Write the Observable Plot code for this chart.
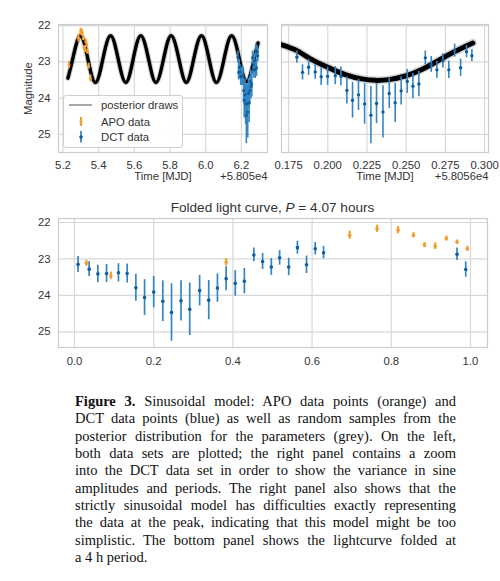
<!DOCTYPE html>
<html><head><meta charset="utf-8">
<script src="https://cdn.jsdelivr.net/npm/d3@7"></script>
<script src="https://cdn.jsdelivr.net/npm/@observablehq/plot@0.6"></script>
<style>
html,body{margin:0;padding:0;background:#fff;}
#wrap{position:relative;width:500px;height:581px;overflow:hidden;background:#fff;}
.panel{position:absolute;}
.panel text{font-family:"Liberation Sans" !important;font-size:11.3px !important;}
#legend{position:absolute;left:63px;top:95px;width:118px;height:51px;border:1px solid #cfcfcf;border-radius:3px;background:rgba(255,255,255,0.9);font:11.3px "Liberation Sans";color:#333;}
#legend svg{position:absolute;left:0;top:0;}
#legend span{position:absolute;left:37px;line-height:12px;white-space:nowrap;}
#title{position:absolute;left:58px;width:429px;top:200px;text-align:center;font:13.6px "Liberation Sans";line-height:16px;color:#333;}
#caption{position:absolute;left:75px;top:393px;width:381px;font-family:"Liberation Serif";font-size:14.5px;line-height:17.35px;color:#111;}
#caption div{text-align:justify;text-align-last:justify;}
#caption div.last{text-align-last:left;}
</style>
</head><body>
<div id="wrap"></div>
<script>
// ---- data ----
const xTicksA = [5.2, 5.4, 5.6, 5.8, 6.0, 6.2];
const xTicksB = [0.175, 0.200, 0.225, 0.250, 0.275, 0.300];
const xTicksC = [0.0, 0.2, 0.4, 0.6, 0.8, 1.0];
const yTicks = [22, 23, 24, 25];

// APO data: time (MJD - 58050), folded phase, magnitude, error
const apoTime  = [5.234, 5.287, 5.299, 5.308, 5.314, 5.319, 5.324, 5.328, 5.333, 5.337, 5.344, 5.354];
const apoPhase = [0.383, 0.695, 0.764, 0.817, 0.856, 0.884, 0.911, 0.939, 0.966, 0.992, 0.030, 0.092];
const apoMag   = [23.09, 22.35, 22.17, 22.21, 22.35, 22.62, 22.65, 22.44, 22.54, 22.72, 23.12, 23.46];
const apoErr   = [0.10, 0.11, 0.10, 0.10, 0.07, 0.07, 0.09, 0.07, 0.06, 0.07, 0.08, 0.10];

// DCT data: time (MJD - 58056), folded phase, magnitude, error
const dctTime  = [0.1803, 0.1839, 0.1878, 0.1920, 0.1958, 0.1999, 0.2048, 0.2084, 0.2122, 0.2158,
                  0.2196, 0.2235, 0.2275, 0.2311, 0.2352, 0.2392, 0.2430, 0.2468, 0.2507, 0.2543,
                  0.2581, 0.2622, 0.2660, 0.2696, 0.2734, 0.2772, 0.2809, 0.2847, 0.2885, 0.2919];
const dctPhase = [0.966, 0.988, 0.009, 0.037, 0.059, 0.081, 0.111, 0.133, 0.155, 0.177,
                  0.200, 0.223, 0.245, 0.269, 0.291, 0.316, 0.339, 0.361, 0.383, 0.406,
                  0.429, 0.453, 0.475, 0.497, 0.518, 0.541, 0.563, 0.586, 0.608, 0.629];
const dctMag   = [22.87, 23.29, 23.15, 23.28, 23.41, 23.40, 23.38, 23.40, 23.79, 24.06,
                  23.91, 24.16, 24.47, 24.15, 24.38, 23.87, 24.13, 23.80, 23.54, 23.67,
                  23.61, 22.89, 23.07, 23.22, 22.97, 23.22, 22.69, 23.16, 22.72, 22.83];
const dctErr   = [0.17, 0.21, 0.22, 0.20, 0.24, 0.25, 0.25, 0.26, 0.37, 0.49,
                  0.43, 0.56, 0.79, 0.55, 0.72, 0.42, 0.54, 0.39, 0.33, 0.35,
                  0.35, 0.19, 0.22, 0.23, 0.20, 0.24, 0.18, 0.24, 0.17, 0.17];
const DCT_OFFSET = 6; // 58056 - 58050

// posterior model (MJD - 58050)
const modelTime = [5.228, 5.255, 5.297, 5.339, 5.382, 5.424, 5.467, 5.509, 5.552, 5.594,
                   5.636, 5.679, 5.721, 5.764, 5.806, 5.849, 5.891, 5.933, 5.976, 6.018,
                   6.060, 6.103, 6.145, 6.188, 6.230, 6.272, 6.293];
const modelMag  = [23.45, 22.91, 22.28, 22.91, 23.57, 22.91, 22.28, 22.91, 23.57, 22.91,
                   22.28, 22.91, 23.57, 22.91, 22.28, 22.91, 23.57, 22.91, 22.28, 22.91,
                   23.57, 22.91, 22.28, 22.91, 23.55, 22.91, 22.48];
// posterior model (MJD - 58056)
const zoomModelTime = [0.1707, 0.1803, 0.1899, 0.2005, 0.2111, 0.2218, 0.2303, 0.2388, 0.2494, 0.2600, 0.2707, 0.2813, 0.2925];
const zoomModelMag  = [22.53, 22.69, 22.94, 23.16, 23.35, 23.47, 23.51, 23.49, 23.39, 23.21, 22.96, 22.71, 22.48];

const captionLines = [
  "<b>Figure 3.</b> Sinusoidal model: APO data points (orange) and",
  "DCT data points (blue) as well as random samples from the",
  "posterior distribution for the parameters (grey). On the left,",
  "both data sets are plotted; the right panel contains a zoom",
  "into the DCT data set in order to show the variance in sine",
  "amplitudes and periods. The right panel also shows that the",
  "strictly sinusoidal model has difficulties exactly representing",
  "the data at the peak, indicating that this model might be too",
  "simplistic. The bottom panel shows the lightcurve folded at",
  "a 4 h period."
];

// ---- tables ----
const apo = apoMag.map((m, i) => ({t: apoTime[i], ph: apoPhase[i], m, e: apoErr[i]}));
const dct = dctMag.map((m, i) => ({t: dctTime[i], tl: dctTime[i] + DCT_OFFSET, ph: dctPhase[i], m, e: dctErr[i]}));
const model = modelTime.map((t, i) => ({t, m: modelMag[i]}));
const zoomModel = zoomModelTime.map((t, i) => ({t, m: zoomModelMag[i]}));

// ---- style ----
const ORANGE = "#f0a030", BLUE_BAR = "#3585c2", BLUE_DOT = "#0e5f9c";
const GRID = "#d8d8d8", FRAME = "#cccccc", TXT = "#333333";
const baseStyle = {fontFamily: "Liberation Sans", fontSize: "11.3px", color: TXT, background: "transparent", overflow: "visible"};

function grids(xt) {
  return [
    Plot.gridX(xt, {stroke: GRID, strokeOpacity: 1, strokeWidth: 1.2}),
    Plot.gridY(yTicks, {stroke: GRID, strokeOpacity: 1, strokeWidth: 1.2}),
    Plot.frame({stroke: FRAME, strokeWidth: 1.2})
  ];
}

const wrap = document.getElementById("wrap");
function place(node, left, top) {
  node.classList.add("panel");
  node.style.left = left + "px";
  node.style.top = top + "px";
  wrap.appendChild(node);
}

// Panel A: full light curve
const plotA = Plot.plot({
  width: 270, height: 195,
  marginLeft: 58, marginRight: 3, marginTop: 24, marginBottom: 43,
  style: baseStyle,
  x: {domain: [5.175, 6.346], label: null},
  y: {domain: [21.97, 25.5], reverse: true, label: null},
  marks: [
    ...grids(xTicksA),
    Plot.axisX(xTicksA, {tickSize: 0, tickPadding: 8, tickFormat: d => d.toFixed(1), label: null, fill: TXT}),
    Plot.axisY(yTicks, {tickSize: 0, tickPadding: 8, tickFormat: d => String(d), label: null, fill: TXT}),
    Plot.line(model, {x: "t", y: "m", curve: "natural", stroke: "#777", strokeOpacity: 0.35, strokeWidth: 5.5, clip: true}),
    Plot.line(model, {x: "t", y: "m", curve: "natural", stroke: "#000", strokeWidth: 3.4, clip: true}),
    Plot.ruleX(apo, {x: "t", y1: d => d.m - d.e, y2: d => d.m + d.e, stroke: ORANGE, strokeWidth: 2}),
    Plot.dot(apo, {x: "t", y: "m", r: 1.5, fill: ORANGE}),
    Plot.ruleX(dct, {x: "tl", y1: d => d.m - d.e, y2: d => d.m + d.e, stroke: BLUE_BAR, strokeWidth: 1.6}),
    Plot.dot(dct, {x: "tl", y: "m", r: 1.5, fill: BLUE_DOT}),
    Plot.text(["Time [MJD]"], {text: d => d, frameAnchor: "bottom", dy: 27.5, fill: TXT}),
    Plot.text(["+5.805e4"], {text: d => d, frameAnchor: "bottom-right", textAnchor: "end", dy: 27.5, fill: TXT}),
    Plot.text(["Magnitude"], {text: d => d, frameAnchor: "left", textAnchor: "middle", lineAnchor: "middle", rotate: -90, dx: -30, fill: TXT})
  ]
});
place(plotA, 0, 0);

// Panel B: zoom on DCT data
const plotB = Plot.plot({
  width: 230, height: 195,
  marginLeft: 11, marginRight: 12, marginTop: 24, marginBottom: 43,
  style: baseStyle,
  x: {domain: [0.1705, 0.3025], label: null},
  y: {domain: [21.97, 25.5], reverse: true, label: null, axis: null},
  marks: [
    ...grids(xTicksB),
    Plot.axisX(xTicksB, {tickSize: 0, tickPadding: 8, tickFormat: d => d.toFixed(3), label: null, fill: TXT}),
    Plot.line(zoomModel, {x: "t", y: "m", curve: "natural", stroke: "#777", strokeOpacity: 0.3, strokeWidth: 8, clip: true}),
    Plot.line(zoomModel, {x: "t", y: "m", curve: "natural", stroke: "#000", strokeWidth: 5, clip: true}),
    Plot.ruleX(dct, {x: "t", y1: d => d.m - d.e, y2: d => d.m + d.e, stroke: BLUE_BAR, strokeWidth: 1.6}),
    Plot.dot(dct, {x: "t", y: "m", r: 1.7, fill: BLUE_DOT}),
    Plot.text(["Time [MJD]"], {text: d => d, frameAnchor: "bottom", dy: 27.5, fill: TXT}),
    Plot.text(["+5.8056e4"], {text: d => d, frameAnchor: "bottom-right", textAnchor: "end", dy: 27.5, fill: TXT})
  ]
});
place(plotB, 270, 0);

// Panel C: folded light curve
const plotC = Plot.plot({
  width: 500, height: 175,
  marginLeft: 58, marginRight: 13, marginTop: 23, marginBottom: 23,
  style: baseStyle,
  x: {domain: [-0.0404, 1.043], label: null},
  y: {domain: [21.89, 25.43], reverse: true, label: null},
  marks: [
    ...grids(xTicksC),
    Plot.axisX(xTicksC, {tickSize: 0, tickPadding: 9, tickFormat: d => d.toFixed(1), label: null, fill: TXT}),
    Plot.axisY(yTicks, {tickSize: 0, tickPadding: 8, tickFormat: d => String(d), label: null, fill: TXT}),
    Plot.ruleX(apo, {x: "ph", y1: d => d.m - d.e, y2: d => d.m + d.e, stroke: ORANGE, strokeWidth: 2.2}),
    Plot.dot(apo, {x: "ph", y: "m", r: 1.8, fill: ORANGE}),
    Plot.ruleX(dct, {x: "ph", y1: d => d.m - d.e, y2: d => d.m + d.e, stroke: BLUE_BAR, strokeWidth: 1.7}),
    Plot.dot(dct, {x: "ph", y: "m", r: 1.8, fill: BLUE_DOT})
  ]
});
place(plotC, 0, 195);

// title of folded panel
const title = document.createElement("div");
title.id = "title";
title.innerHTML = "Folded light curve, <i>P</i> = 4.07 hours";
wrap.appendChild(title);

// legend of panel A
const legend = document.createElement("div");
legend.id = "legend";
legend.innerHTML = `
<svg width="118" height="51">
  <line x1="5" x2="28" y1="9" y2="9" stroke="#a8a8a8" stroke-width="2"/>
  <line x1="17" x2="17" y1="21" y2="30" stroke="${ORANGE}" stroke-width="2.2"/>
  <circle cx="17" cy="25.5" r="1.5" fill="${ORANGE}"/>
  <line x1="17" x2="17" y1="35" y2="46.5" stroke="${BLUE_BAR}" stroke-width="1.8"/>
  <circle cx="17" cy="41" r="1.8" fill="${BLUE_DOT}"/>
</svg>
<span style="top:3px">posterior draws</span>
<span style="top:19.5px">APO data</span>
<span style="top:35px">DCT data</span>`;
wrap.appendChild(legend);

// caption
const cap = document.createElement("div");
cap.id = "caption";
cap.innerHTML = captionLines.map((l, i) => `<div${i === captionLines.length - 1 ? ' class="last"' : ''}>${l}</div>`).join("");
wrap.appendChild(cap);
</script>
</body></html>
